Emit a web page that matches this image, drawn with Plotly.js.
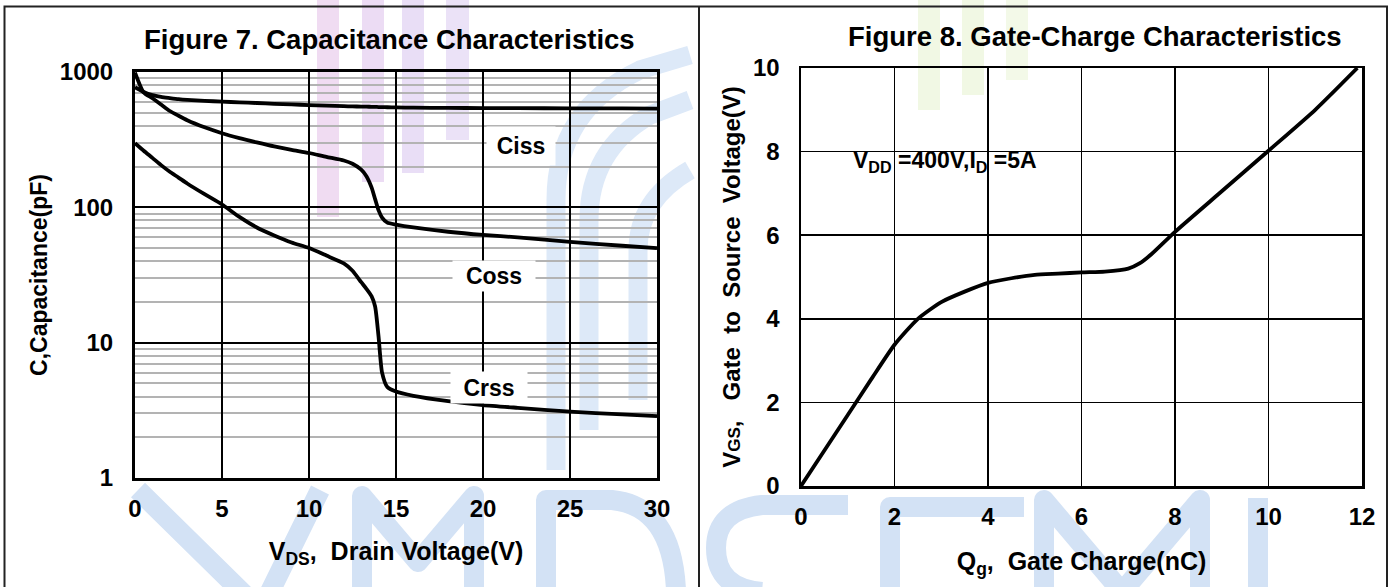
<!DOCTYPE html>
<html>
<head>
<meta charset="utf-8">
<script src="https://cdn.plot.ly/plotly-3.0.1.min.js"></script>
<style>
  html, body { margin: 0; padding: 0; background: #ffffff; }
  #chart { width: 1392px; height: 587px; }
</style>
</head>
<body>
<div id="chart"></div>
<script>
// ---------- Figure 7 data (Capacitance vs VDS) ----------
const vds = [0, 0.5, 1, 1.5, 2, 2.5, 3, 4, 5, 6, 7, 8, 9, 10, 11, 12, 12.5, 13, 13.3, 13.6, 13.8, 14.0, 14.2, 14.5, 15, 16, 18, 20, 22, 25, 28, 30];
const ciss = [772, 712, 675, 655, 642, 630, 622, 612, 604, 597, 590, 582, 576, 570, 564, 559, 557, 555, 554, 553, 552, 551, 550, 549, 547, 545, 543, 541, 540, 539, 538, 537];
const coss = [990, 705, 640, 575, 515, 475, 440, 390, 353, 325, 302, 282, 266, 252, 236, 222, 210, 190, 170, 140, 115, 95, 84, 77, 74.5, 71, 66, 62.5, 60, 55.5, 52, 50];
const crss = [298, 262, 232, 205, 183, 166, 150, 125, 105, 85, 71, 62, 55, 50, 44, 38.5, 34, 28, 25, 22, 18.5, 11, 6, 4.7, 4.35, 4.05, 3.7, 3.46, 3.3, 3.09, 2.95, 2.87];
const capTicks = [1, 10, 100, 1000];
const capTickText = ["1", "10", "100", "1000"];
const vdsTicks = [0, 5, 10, 15, 20, 25, 30];

// ---------- Figure 8 data (Gate charge) ----------
const qg = [0, 0.5, 1, 1.5, 2, 2.5, 3, 3.5, 4, 4.5, 5, 5.5, 6, 6.5, 7, 7.25, 7.5, 8, 9, 10, 11, 11.9];
const vgs = [0, 0.85, 1.7, 2.55, 3.38, 4.0, 4.4, 4.65, 4.86, 4.97, 5.05, 5.08, 5.11, 5.13, 5.2, 5.33, 5.55, 6.08, 7.05, 8.02, 9.0, 10.0];
const qgTicks = [0, 2, 4, 6, 8, 10, 12];
const vgsTicks = [0, 2, 4, 6, 8, 10];

const FONT = "Liberation Sans, Arial, Helvetica, sans-serif";
const W = 1392, H = 587;
const px = v => v / W;
const py = v => (H - v) / H;

// faint background logo watermark (decorative only)
const wm = '<svg xmlns="http://www.w3.org/2000/svg" width="1392" height="587" viewBox="0 0 1392 587">' +
  '<rect x="317" y="0" width="22" height="217" fill="#f0dcf2"/>' +
  '<rect x="362" y="0" width="22" height="182" fill="#ecdcf4"/>' +
  '<rect x="402" y="0" width="22" height="173" fill="#e9def6"/>' +
  '<rect x="446" y="0" width="23" height="140" fill="#ebe2f7"/>' +
  '<rect x="918" y="0" width="22" height="110" fill="#f1f8e4"/>' +
  '<rect x="962" y="0" width="22" height="95" fill="#f1f8e4"/>' +
  '<rect x="1006" y="0" width="22" height="80" fill="#f3f9e8"/>' +
  '<path d="M556 470 L556 200 Q556 110 640 70 L690 55" fill="none" stroke="#dde9f8" stroke-width="19"/>' +
  '<path d="M589 430 L589 220 Q589 150 650 115 L690 100" fill="none" stroke="#dde9f8" stroke-width="19"/>' +
  '<path d="M638 400 L638 250 Q638 200 690 170" fill="none" stroke="#dde9f8" stroke-width="19"/>' +
  '<g fill="none" stroke="#d3e2f5" stroke-width="20" stroke-linejoin="round">' +
  '<path d="M138 490 L254 604 M320 490 L264 604"/>' +
  '<path d="M362 604 L362 496 L418 562 L474 496 L474 604"/>' +
  '<path d="M546 604 L546 500 L612 500 Q672 506 676 590"/>' +
  '<path d="M848 505 L762 505 Q716 510 716 548 Q716 588 762 592"/>' +
  '<path d="M1024 507 L890 507 L890 604"/>' +
  '<path d="M1044 604 L1044 500 L1122 592 L1200 500 L1200 604"/>' +
  '<path d="M1258 498 L1258 604"/>' +
  '</g></svg>';

const lineStyle = {color: "#000000", width: 3.8, shape: "spline", smoothing: 0.6};

const traces = [
  {x: vds, y: ciss, type: "scatter", mode: "lines", name: "Ciss", line: lineStyle, xaxis: "x", yaxis: "y", hoverinfo: "skip"},
  {x: vds, y: coss, type: "scatter", mode: "lines", name: "Coss", line: lineStyle, xaxis: "x", yaxis: "y", hoverinfo: "skip"},
  {x: vds, y: crss, type: "scatter", mode: "lines", name: "Crss", line: lineStyle, xaxis: "x", yaxis: "y", hoverinfo: "skip"},
  {x: qg, y: vgs, type: "scatter", mode: "lines", name: "VGS", line: {color: "#000000", width: 3.8, shape: "spline", smoothing: 0.6}, xaxis: "x2", yaxis: "y2", hoverinfo: "skip"}
];

const tickFont = {family: FONT, size: 24, color: "#000000", weight: "bold"};
const xTitleFont = {family: FONT, size: 25, color: "#000000", weight: "bold"};
const yTitleFont = {family: FONT, size: 23, color: "#000000", weight: "bold"};

const layout = {
  width: W, height: H,
  margin: {l: 0, r: 0, t: 0, b: 0},
  paper_bgcolor: "#ffffff",
  plot_bgcolor: "rgba(0,0,0,0)",
  showlegend: false,
  font: {family: FONT, color: "#000000"},
  images: [{source: "data:image/svg+xml;charset=utf-8," + encodeURIComponent(wm),
            xref: "paper", yref: "paper", x: 0, y: 1, sizex: 1, sizey: 1,
            xanchor: "left", yanchor: "top", sizing: "stretch", layer: "below"}],
  xaxis: {
    domain: [px(135), px(657)], anchor: "y",
    range: [0, 30], tickmode: "array", tickvals: vdsTicks,
    showgrid: true, gridcolor: "#000000", gridwidth: 2,
    zeroline: false, showline: true, mirror: true, linecolor: "#000000", linewidth: 3,
    ticks: "", ticklabelstandoff: 7, tickfont: tickFont,
    title: {text: "V<sub>DS</sub>,\u00a0\u00a0Drain Voltage(V)", font: xTitleFont, standoff: 22}
  },
  yaxis: {
    domain: [py(478), py(72)], anchor: "x",
    type: "log", range: [0, 3], tickmode: "array", tickvals: capTicks, ticktext: capTickText,
    showgrid: true, gridcolor: "#000000", gridwidth: 2,
    minor: {dtick: "D1", showgrid: true, gridcolor: "#b3b3b3", gridwidth: 2, ticks: ""},
    zeroline: false, showline: true, mirror: true, linecolor: "#000000", linewidth: 3,
    ticks: "", ticklabelstandoff: 14, tickfont: tickFont,
    title: {text: "C,Capacitance(pF)", font: yTitleFont, standoff: 6}
  },
  xaxis2: {
    domain: [px(801), px(1362)], anchor: "y2",
    range: [0, 12], tickmode: "array", tickvals: qgTicks,
    showgrid: true, gridcolor: "#000000", gridwidth: 1.5,
    zeroline: false, showline: true, mirror: true, linecolor: "#000000", linewidth: 2.5,
    ticks: "", ticklabelstandoff: 8, tickfont: tickFont,
    title: {text: "Q<sub>g</sub>,\u00a0\u00a0Gate Charge(nC)", font: xTitleFont, standoff: 23}
  },
  yaxis2: {
    domain: [py(486), py(68)], anchor: "x2",
    range: [0, 10], tickmode: "array", tickvals: vgsTicks,
    showgrid: true, gridcolor: "#000000", gridwidth: 1.5,
    zeroline: false, showline: true, mirror: true, linecolor: "#000000", linewidth: 2.5,
    ticks: "", ticklabelstandoff: 14, tickfont: tickFont,
    title: {text: "V<span style=\"font-size:17px\">GS</span>,\u00a0\u00a0\u00a0Gate\u00a0\u00a0to\u00a0\u00a0Source\u00a0\u00a0Voltage(V)", font: {family: FONT, size: 24, color: "#000000", weight: "bold"}, standoff: 6}
  },
  annotations: [
    {xref: "paper", yref: "paper", x: px(389), y: py(39), xanchor: "center", yanchor: "middle", showarrow: false,
     text: "Figure 7. Capacitance Characteristics", font: {family: FONT, size: 27.5, color: "#000000", weight: "bold"}},
    {xref: "paper", yref: "paper", x: px(1095), y: py(36), xanchor: "center", yanchor: "middle", showarrow: false,
     text: "Figure 8. Gate-Charge Characteristics", font: {family: FONT, size: 27.5, color: "#000000", weight: "bold"}},
    {xref: "x", yref: "y", x: 22.2, y: 2.45, showarrow: false, text: "Ciss", bgcolor: "#ffffff", borderpad: 0, width: 68, height: 38,
     font: {family: FONT, size: 23, color: "#000000", weight: "bold"}},
    {xref: "x", yref: "y", x: 20.66, y: 1.489, showarrow: false, text: "Coss", bgcolor: "#ffffff", borderpad: 0, width: 82, height: 30,
     font: {family: FONT, size: 23, color: "#000000", weight: "bold"}},
    {xref: "x", yref: "y", x: 20.34, y: 0.669, showarrow: false, text: "Crss", bgcolor: "#ffffff", borderpad: 0, width: 76, height: 31,
     font: {family: FONT, size: 23, color: "#000000", weight: "bold"}},
    {xref: "x2", yref: "y2", x: 3.08, y: 7.76, showarrow: false, text: "V<sub>DD</sub> =400V,I<sub>D</sub> =5A",
     font: {family: FONT, size: 23, color: "#000000", weight: "bold"}}
  ],
  shapes: [
    {type: "rect", xref: "paper", yref: "paper", x0: px(4.5), x1: px(1387), y0: -0.02, y1: py(6.5),
     line: {color: "#222222", width: 2}, fillcolor: "rgba(0,0,0,0)", layer: "above"},
    {type: "line", xref: "paper", yref: "paper", x0: px(699), x1: px(699), y0: -0.02, y1: py(6.5),
     line: {color: "#222222", width: 2}, layer: "above"}
  ]
};

Plotly.newPlot("chart", traces, layout, {staticPlot: true, displayModeBar: false});
</script>
</body>
</html>
